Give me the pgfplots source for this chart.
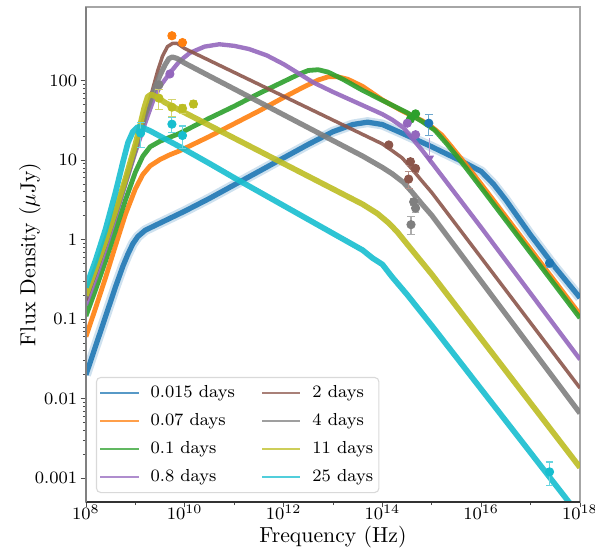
\documentclass[border=0pt]{standalone}
\usepackage{pgfplots}
\pgfplotsset{compat=1.18}
\definecolor{c0}{HTML}{1F77B4}
\definecolor{c1}{HTML}{FF7F0E}
\definecolor{c2}{HTML}{2CA02C}
\definecolor{c4}{HTML}{9467BD}
\definecolor{c5}{HTML}{8C564B}
\definecolor{c7}{HTML}{7F7F7F}
\definecolor{c8}{HTML}{BCBD22}
\definecolor{c9}{HTML}{17BECF}
\newcommand{\legap}{\rule{3.5pt}{0pt}}
\begin{document}
\begin{tikzpicture}
\begin{axis}[
  scale only axis, width=227.1pt, height=227.6pt,
  xmode=log, ymode=log,
  xmin=1e8, xmax=1e18, ymin=5e-4, ymax=850,
  xtick={1e8,1e10,1e12,1e14,1e16,1e18},
  minor xtick={1e9,1e11,1e13,1e15,1e17},
  ytick={1e-3,1e-2,1e-1,1,10,100},
  yticklabels={0.001,0.01,0.1,1,10,100},
  axis line style={black!35, line width=0.5pt},
  tick align=outside, xtick pos=left, ytick pos=left,
  major tick length=2.4pt, minor tick length=1.4pt,
  every tick/.style={black!70, line width=0.4pt},
  tick label style={font=\fontsize{8}{9.6}\selectfont},
  xticklabel style={inner sep=0pt, yshift=1.4pt},
  yticklabel style={inner xsep=1.5pt},
  every axis x label/.style={at={([yshift=-16.1pt]rel axis cs:0.5,0)}, anchor=center},
  every axis y label/.style={at={([xshift=-25.7pt]rel axis cs:0,0.5)}, rotate=90, anchor=center},
  xlabel={Frequency (Hz)}, ylabel={Flux Density ($\mu$Jy)},
  legend columns=2,
  legend cell align=left,
  legend style={at={(0.0202,0.0182)}, anchor=south west, font=\fontsize{8}{9.6}\selectfont,
    draw=black!15, line width=0.5pt, rounded corners=2pt, fill=white, fill opacity=0.8, text opacity=1,
    inner xsep=1.2pt, inner ysep=2pt, row sep=2.3pt,
    nodes={inner sep=1.5pt, text height=5.8pt, text depth=1.7pt},
    /tikz/every even column/.append style={column sep=10.4pt}},
  legend image code/.code={\draw[#1] (0pt,0pt) -- (17.6pt,0pt);},
  after end axis/.code={
    \draw[black!80, line width=1.2pt] (rel axis cs:0,0) -- (rel axis cs:1,0);
    \draw[black!50, line width=0.7pt] (rel axis cs:0,0) -- (rel axis cs:0,1);
  },
]
% ---- model curves ----
% 0.015 days
\addplot[forget plot, c0, opacity=0.9, line width=2.4pt, line join=round, preaction={draw, c0, opacity=0.22, line width=4.6pt}] coordinates {
(1e8,0.01995) (1.585e8,0.04677) (2.512e8,0.1096) (3.981e8,0.2570) (5.623e8,0.4677) (7.079e8,0.6607)
(8.913e8,0.8913) (1.122e9,1.096) (1.585e9,1.318) (2.512e9,1.514) (3.981e9,1.738) (1e10,2.291)
(3.162e10,3.311) (1e11,4.898) (3.162e11,7.244) (1e12,10.72) (3.162e12,15.85) (1e13,22.91)
(2.512e13,28.18) (5.012e13,30.20) (1e14,28.18) (2.512e14,21.88) (1e15,14.79) (3.981e15,9.772)
(1e16,7.244) (1.778e16,5.012) (3.162e16,3.162) (1e17,1.148) (3.162e17,0.4467) (1e18,0.1862)};
% 0.07 days
\addplot[forget plot, c1, opacity=0.9, line width=2.2pt, line join=round] coordinates {
(1e8,0.06026) (1.585e8,0.1413) (2.512e8,0.3388) (3.981e8,0.8511) (6.310e8,2.089) (1e9,4.365)
(1.413e9,6.607) (1.995e9,8.511) (3.162e9,10.23) (5.012e9,11.75) (7.943e9,13.18) (3.162e10,19.95)
(1e11,28.84) (3.162e11,41.69) (1e12,61.66) (2.512e12,83.18) (5.012e12,102.3) (7.943e12,112.2)
(1.259e13,112.2) (1.995e13,104.7) (3.981e13,85.11) (1e14,57.54) (2.291e14,43.15) (6.310e14,31.62)
(1e15,26.30) (1.585e15,20.89) (2.512e15,14.79) (5.012e15,8.710) (1e16,5.012) (1e17,0.7586) (1e18,0.1148)};
% 0.1 days
\addplot[forget plot, c2, opacity=0.9, line width=2.2pt, line join=round] coordinates {
(1e8,0.1096) (1.585e8,0.2399) (2.512e8,0.5495) (3.981e8,1.318) (6.310e8,3.162) (1e9,7.079)
(1.413e9,11.22) (1.995e9,14.79) (3.162e9,17.38) (5.012e9,19.50) (7.943e9,21.88) (3.162e10,33.88)
(1e11,47.86) (3.162e11,69.18) (1e12,97.72) (1.995e12,120.2) (3.162e12,134.9) (5.012e12,138.0)
(7.943e12,128.8) (1.585e13,104.7) (3.981e13,75.86) (1e14,56.89) (3.162e14,39.81) (6.310e14,30.90)
(1.148e15,23.99) (1.995e15,16.22) (3.981e15,9.550) (1e16,4.519) (1e17,0.6839) (1e18,0.1035)};
% 0.8 days
\addplot[forget plot, c4, opacity=0.9, line width=2.0pt, line join=round] coordinates {
(1e8,0.1514) (1.585e8,0.3311) (2.512e8,0.7762) (3.981e8,1.950) (6.310e8,5.012) (1e9,12.59)
(1.585e9,29.51) (2.291e9,56.23) (3.162e9,85.11) (5.012e9,125.9) (7.943e9,177.8) (1.259e10,223.9)
(2.512e10,269.2) (5.012e10,288.4) (1e11,275.4) (1.995e11,251.2) (4.571e11,208.9) (1e12,162.2)
(2.188e12,120.2) (3.981e12,95.50) (1e13,72.44) (3.162e13,52.48) (1e14,38.02) (1.585e14,32.36)
(2.692e14,25.70) (3.981e14,19.05) (6.310e14,13.49) (1e15,9.333) (1e16,1.426) (1e17,0.2109) (1e18,0.03119)};
% 2 days
\addplot[forget plot, c5, opacity=0.9, line width=1.6pt, line join=round] coordinates {
(1e8,0.1738) (1.585e8,0.3802) (2.512e8,0.8710) (3.981e8,2.089) (6.310e8,5.248) (1e9,13.80)
(1.585e9,37.15) (2.188e9,74.13) (2.818e9,131.8) (3.548e9,204.2) (4.467e9,269.2) (5.623e9,295.1)
(7.079e9,295.1) (1e10,254.7) (3.162e10,180.3) (1e11,127.6) (1e12,63.97) (1e13,32.06) (3.981e13,21.18)
(1e14,16.07) (1.585e14,13.18) (2.512e14,10.72) (3.981e14,7.762) (6.310e14,5.495) (1e15,3.926)
(1e16,0.5943) (1e17,0.08995) (1e18,0.01361)};
% 4 days
\addplot[forget plot, c7, opacity=0.9, line width=2.4pt, line join=round] coordinates {
(1e8,0.1905) (1.585e8,0.4169) (2.512e8,0.9333) (3.981e8,2.188) (6.310e8,5.370) (1e9,13.80)
(1.585e9,37.15) (2.512e9,83.18) (3.162e9,117.5) (3.981e9,158.5) (4.786e9,190.5) (5.623e9,199.5)
(7.079e9,190.5) (1e10,167.1) (3.162e10,114.8) (1e11,79.07) (1e12,37.41) (1e13,17.70) (3.981e13,11.30)
(1e14,8.128) (1.585e14,6.761) (2.692e14,5.248) (3.981e14,3.981) (6.310e14,2.818) (1e15,2.028)
(1e16,0.2999) (1e17,0.04436) (1e18,0.006561)};
% 11 days
\addplot[forget plot, c8, opacity=0.9, line width=2.6pt, line join=round] coordinates {
(1e8,0.1995) (1.585e8,0.4365) (2.512e8,0.9772) (3.981e8,2.344) (6.310e8,5.888) (1e9,15.85)
(1.259e9,28.18) (1.514e9,45.71) (1.778e9,63.10) (2.089e9,67.61) (2.818e9,61.66) (3.981e9,53.33)
(1e10,39.72) (1e11,19.01) (1e12,9.099) (1e13,4.355) (3.981e13,2.799) (7.943e13,2.138)
(1.349e14,1.622) (1.995e14,1.259) (3.981e14,0.7413) (1e15,0.3673) (1e16,0.05689) (1e17,0.008810) (1e18,0.001365)};
% 25 days
\addplot[forget plot, c9, opacity=0.9, line width=2.6pt, line join=round] coordinates {
(1e8,0.2512) (1.585e8,0.5623) (2.512e8,1.380) (3.981e8,3.981) (5.623e8,9.550) (7.079e8,16.60)
(8.913e8,22.91) (1.122e9,26.30) (1.413e9,25.70) (1.995e9,23.44) (3.981e9,18.62) (7.943e9,14.79)
(3.162e10,9.120) (1e11,6.026) (1e12,2.692) (1e13,1.202) (3.981e13,0.7413) (6.310e13,0.5888)
(1e14,0.4898) (1.585e14,0.3388) (3.162e14,0.2042) (1e15,0.08318) (1e16,0.01318) (1e17,0.002089) (1e18,0.0003311)};
% ---- data ----
\pgfplotsset{errst/.style={only marks, mark=*, mark size=1.9pt, forget plot, color=#1,
  error bars/.cd, y dir=both, y explicit,
  error bar style={#1!65, line width=0.5pt},
  error mark options={rotate=90, mark size=1.8pt, #1!65, line width=0.5pt}},
  ptst/.style={only marks, mark=*, mark size=1.9pt, forget plot, color=#1}}
\addplot[errst=c1] coordinates {(5.5e9,369) +- (0,30) (9e9,303) +- (0,20)};
\addplot[ptst=c4] coordinates {(5e9,122)};
\addplot[ptst=c7] coordinates {(3e9,89)};
\addplot[errst=c8] coordinates {(3e9,60.5) +- (0,17) (5.5e9,46.6) +- (0,11) (9e9,45) +- (0,6) (1.5e10,51) +- (0,5)};
\addplot[errst=c9] coordinates {(1.28e9,22) +- (0,7.5) (5.5e9,28.5) +- (0,6) (9e9,20.5) +- (0,6.5)};
\addplot[ptst=c2] coordinates {(3.7e14,33) (4.7e14,38.4)};
\addplot[ptst=c4] coordinates {(3.2e14,29.3) (4.7e14,21)};
\addplot[forget plot, c4!70, line width=0.5pt] coordinates {(9e14,19) (9e14,11.5)};
\addplot[only marks, forget plot, mark=triangle*, mark size=2pt, c4, mark options={rotate=180}] coordinates {(9e14,10.6)};
\addplot[errst=c0] coordinates {(8.7e14,29.3) +- (0,8.7) (2.42e17,0.51) +- (0,0.06)};
\addplot[errst=c5] coordinates {(1.35e14,15.6) +- (0,0.8) (3.7e14,9.6) +- (0,1.0) (4.7e14,7.9) +- (0,0.8) (3.4e14,5.8) +- (0,1.4)};
\addplot[errst=c7] coordinates {(4.3e14,3.0) +- (0,0.3) (4.7e14,2.5) +- (0,0.3) (3.8e14,1.55) +- (0,0.4)};
\addplot[errst=c9] coordinates {(2.42e17,0.0012) +- (0,0.0004)};
% ---- legend ----
\addlegendimage{c0!75, line width=1.1pt}\addlegendentry{\legap 0.015 days}
\addlegendimage{c5!75, line width=1.1pt}\addlegendentry{\legap 2 days}
\addlegendimage{c1!75, line width=1.1pt}\addlegendentry{\legap 0.07 days}
\addlegendimage{c7!75, line width=1.1pt}\addlegendentry{\legap 4 days}
\addlegendimage{c2!75, line width=1.1pt}\addlegendentry{\legap 0.1 days}
\addlegendimage{c8!75, line width=1.1pt}\addlegendentry{\legap 11 days}
\addlegendimage{c4!75, line width=1.1pt}\addlegendentry{\legap 0.8 days}
\addlegendimage{c9!75, line width=1.1pt}\addlegendentry{\legap 25 days}
\end{axis}
\pgfresetboundingbox
\path ([shift={(-39.5pt,-23.0pt)}]current axis.south west) rectangle ([shift={(6.9pt,3.2pt)}]current axis.north east);
\end{tikzpicture}
\end{document}
